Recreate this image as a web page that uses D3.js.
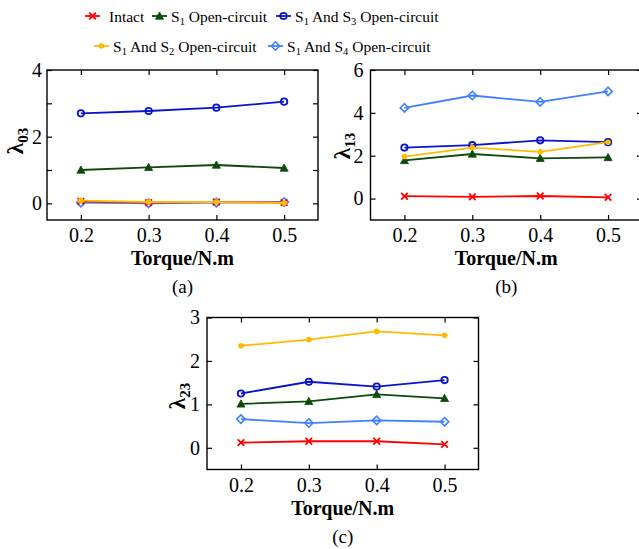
<!DOCTYPE html>
<html>
<head>
<meta charset="utf-8">
<script src="https://cdn.jsdelivr.net/npm/d3@7"></script>
<style>
  html, body { margin: 0; padding: 0; background: #fff; }
  svg, svg text { font-family: "Liberation Serif", "Times New Roman", serif !important; }
</style>
</head>
<body>
<svg id="chart" width="639" height="549"></svg>
<script>
// Torque load points (N.m)
const torque = [0.2, 0.3, 0.4, 0.5];
const xTicks = [0.2, 0.3, 0.4, 0.5];

// Fault cases, in legend order
const seriesNames = ["Intact", "S1 Open-circuit", "S1 And S3 Open-circuit", "S1 And S2 Open-circuit", "S1 And S4 Open-circuit"];

// λ03 for each case
const lambda03_intact = [0.06, 0.02, 0.04, 0.02];
const lambda03_s1     = [1.00, 1.08, 1.15, 1.06];
const lambda03_s1s3   = [2.70, 2.77, 2.87, 3.05];
const lambda03_s1s2   = [0.08, 0.04, 0.04, 0.01];
const lambda03_s1s4   = [0.02, 0.00, 0.02, 0.04];

// λ13 for each case
const lambda13_intact = [0.11, 0.08, 0.12, 0.06];
const lambda13_s1     = [1.78, 2.08, 1.88, 1.92];
const lambda13_s1s3   = [2.38, 2.49, 2.72, 2.63];
const lambda13_s1s2   = [1.96, 2.38, 2.18, 2.63];
const lambda13_s1s4   = [4.23, 4.81, 4.51, 5.00];

// λ23 for each case
const lambda23_intact = [0.12, 0.15, 0.15, 0.08];
const lambda23_s1     = [1.01, 1.07, 1.23, 1.14];
const lambda23_s1s3   = [1.25, 1.52, 1.41, 1.56];
const lambda23_s1s2   = [2.35, 2.49, 2.68, 2.59];
const lambda23_s1s4   = [0.66, 0.57, 0.63, 0.60];

// y tick values and which of them get labels
const yTicksA = [0, 1, 2, 3, 4],  yLabelsA = [0, 2, 4];
const yTicksB = [0, 2, 4, 6],     yLabelsB = [0, 2, 4, 6];
const yTicksC = [0, 1, 2, 3],     yLabelsC = [0, 1, 2, 3];

const styles = [
  { color: "#ff0000", marker: "x" },
  { color: "#0a4a0a", marker: "tri" },
  { color: "#0a14c8", marker: "circle" },
  { color: "#ffbb00", marker: "dot" },
  { color: "#4080ff", marker: "diamond" }
];
// drawing order (last on top)
const drawOrder = [4, 0, 1, 2, 3];

const FONT = "'Liberation Serif', 'Times New Roman', serif";

const panels = [
  { sub: "03", tag: "(a)", domain: [-0.5, 4], yTicks: yTicksA, yLabels: yLabelsA,
    data: [lambda03_intact, lambda03_s1, lambda03_s1s3, lambda03_s1s2, lambda03_s1s4],
    x0: 47, x1: 318, y0: 220, y1: 70, ylx: 23, yly: 141, lblGap: 5 },
  { sub: "13", tag: "(b)", domain: [-1, 6], yTicks: yTicksB, yLabels: yLabelsB,
    data: [lambda13_intact, lambda13_s1, lambda13_s1s3, lambda13_s1s2, lambda13_s1s4],
    x0: 370.5, x1: 642, y0: 220, y1: 70, ylx: 350, yly: 146, lblGap: 7 },
  { sub: "23", tag: "(c)", domain: [-0.5, 3], yTicks: yTicksC, yLabels: yLabelsC,
    data: [lambda23_intact, lambda23_s1, lambda23_s1s3, lambda23_s1s2, lambda23_s1s4],
    x0: 207, x1: 478.5, y0: 469.5, y1: 317.5, ylx: 185, yly: 396, lblGap: 7 }
];

const svg = d3.select("#chart");

function drawMarker(g, type, color, cx, cy) {
  if (type === "x") {
    const s = 3.3;
    g.append("path").attr("d", `M${cx-s},${cy-s}L${cx+s},${cy+s}M${cx-s},${cy+s}L${cx+s},${cy-s}`)
      .attr("stroke", color).attr("stroke-width", 1.8).attr("fill", "none");
  } else if (type === "tri") {
    const s = 4;
    g.append("path").attr("d", `M${cx},${cy-s}L${cx+s},${cy+s*0.8}L${cx-s},${cy+s*0.8}Z`)
      .attr("fill", color).attr("stroke", color).attr("stroke-width", 0.8);
  } else if (type === "circle") {
    g.append("circle").attr("cx", cx).attr("cy", cy).attr("r", 3.2)
      .attr("fill", "none").attr("stroke", color).attr("stroke-width", 1.8);
  } else if (type === "dot") {
    g.append("circle").attr("cx", cx).attr("cy", cy).attr("r", 2.8).attr("fill", color);
  } else if (type === "diamond") {
    const s = 4.2;
    g.append("path").attr("d", `M${cx},${cy-s}L${cx+s},${cy}L${cx},${cy+s}L${cx-s},${cy}Z`)
      .attr("fill", "none").attr("stroke", color).attr("stroke-width", 1.6);
  }
}

panels.forEach(p => {
  const x = d3.scaleLinear().domain([0.15, 0.55]).range([p.x0, p.x1]);
  const y = d3.scaleLinear().domain(p.domain).range([p.y0, p.y1]);
  const g = svg.append("g");

  // series lines and markers
  const line = d3.line().x((d, i) => x(torque[i])).y(d => y(d));
  drawOrder.forEach(si => {
    const st = styles[si];
    g.append("path").datum(p.data[si]).attr("d", line)
      .attr("fill", "none").attr("stroke", st.color).attr("stroke-width", 1.8);
    p.data[si].forEach((v, i) => drawMarker(g, st.marker, st.color, x(torque[i]), y(v)));
  });

  // frame
  g.append("rect").attr("x", p.x0).attr("y", p.y1)
    .attr("width", p.x1 - p.x0).attr("height", p.y0 - p.y1)
    .attr("fill", "none").attr("stroke", "#000").attr("stroke-width", 1.4);

  const tk = 5;
  // x ticks (inside, bottom and top) and labels
  const xAxisB = d3.axisBottom(x).tickValues(xTicks).tickSize(-tk).tickPadding(8).tickFormat(d3.format(".1f"));
  const gxb = g.append("g").attr("transform", `translate(0,${p.y0})`).call(xAxisB);
  const xAxisT = d3.axisTop(x).tickValues(xTicks).tickSize(-tk).tickFormat("");
  const gxt = g.append("g").attr("transform", `translate(0,${p.y1})`).call(xAxisT);

  // y ticks (inside, left and right) and labels
  const yAxisL = d3.axisLeft(y).tickValues(p.yTicks).tickSize(-tk).tickPadding(p.lblGap)
    .tickFormat(d => p.yLabels.includes(d) ? d : "");
  const gyl = g.append("g").attr("transform", `translate(${p.x0},0)`).call(yAxisL);
  const yAxisR = d3.axisRight(y).tickValues(p.yTicks).tickSize(-tk).tickFormat("");
  const gyr = g.append("g").attr("transform", `translate(${p.x1},0)`).call(yAxisR);

  [gxb, gxt, gyl, gyr].forEach(a => {
    a.attr("font-family", FONT).attr("font-size", 20);
    a.select(".domain").remove();
    a.selectAll(".tick line").attr("stroke", "#000").attr("stroke-width", 1.2);
    a.selectAll("text").style("font-family", FONT).style("font-size", "20px").attr("fill", "#000");
  });

  // x axis title and panel tag
  g.append("text").attr("x", x(0.35)).attr("y", p.y0 + 45)
    .attr("text-anchor", "middle").attr("font-weight", "bold")
    .style("font-family", FONT).style("font-size", "20px")
    .text("Torque/N.m");
  g.append("text").attr("x", x(0.35)).attr("y", p.y0 + 73)
    .attr("text-anchor", "middle")
    .style("font-family", FONT).style("font-size", "19px")
    .text(p.tag);

  // y axis title λ with subscript
  const yt = g.append("text").attr("transform", `translate(${p.ylx},${p.yly}) rotate(-90)`)
    .attr("text-anchor", "middle").attr("font-weight", "bold")
    .style("font-family", FONT).style("font-size", "23px");
  yt.append("tspan").text("λ");
  yt.append("tspan").style("font-size", "15px").attr("dy", 5).text(p.sub);
});

// legend
const legendRows = [
  [{ i: 0, lx: 85, tx: 109, y: 16 }, { i: 1, lx: 152, tx: 171, y: 16 }, { i: 2, lx: 276, tx: 295, y: 16 }],
  [{ i: 3, lx: 94, tx: 113, y: 46 }, { i: 4, lx: 268, tx: 287, y: 46 }]
];
const lg = svg.append("g");
legendRows.flat().forEach(e => {
  const st = styles[e.i];
  lg.append("line").attr("x1", e.lx).attr("x2", e.lx + 15).attr("y1", e.y).attr("y2", e.y)
    .attr("stroke", st.color).attr("stroke-width", 1.8);
  drawMarker(lg, st.marker, st.color, e.lx + 7.5, e.y);
  const t = lg.append("text").attr("x", e.tx).attr("y", e.y + 6)
    .style("font-family", FONT).style("font-size", "15.5px");
  const name = seriesNames[e.i];
  // S1, S2 ... are written with subscript digits
  const parts = name.split(/(S\d)/).filter(s => s.length);
  let shift = 0;
  parts.forEach(part => {
    const m = part.match(/^S(\d)$/);
    if (m) {
      t.append("tspan").attr("dy", -shift).text("S");
      t.append("tspan").style("font-size", "10.5px").attr("dy", 3).text(m[1]);
      shift = 3;
    } else {
      t.append("tspan").attr("dy", -shift).text(part);
      shift = 0;
    }
  });
});
</script>
</body>
</html>
